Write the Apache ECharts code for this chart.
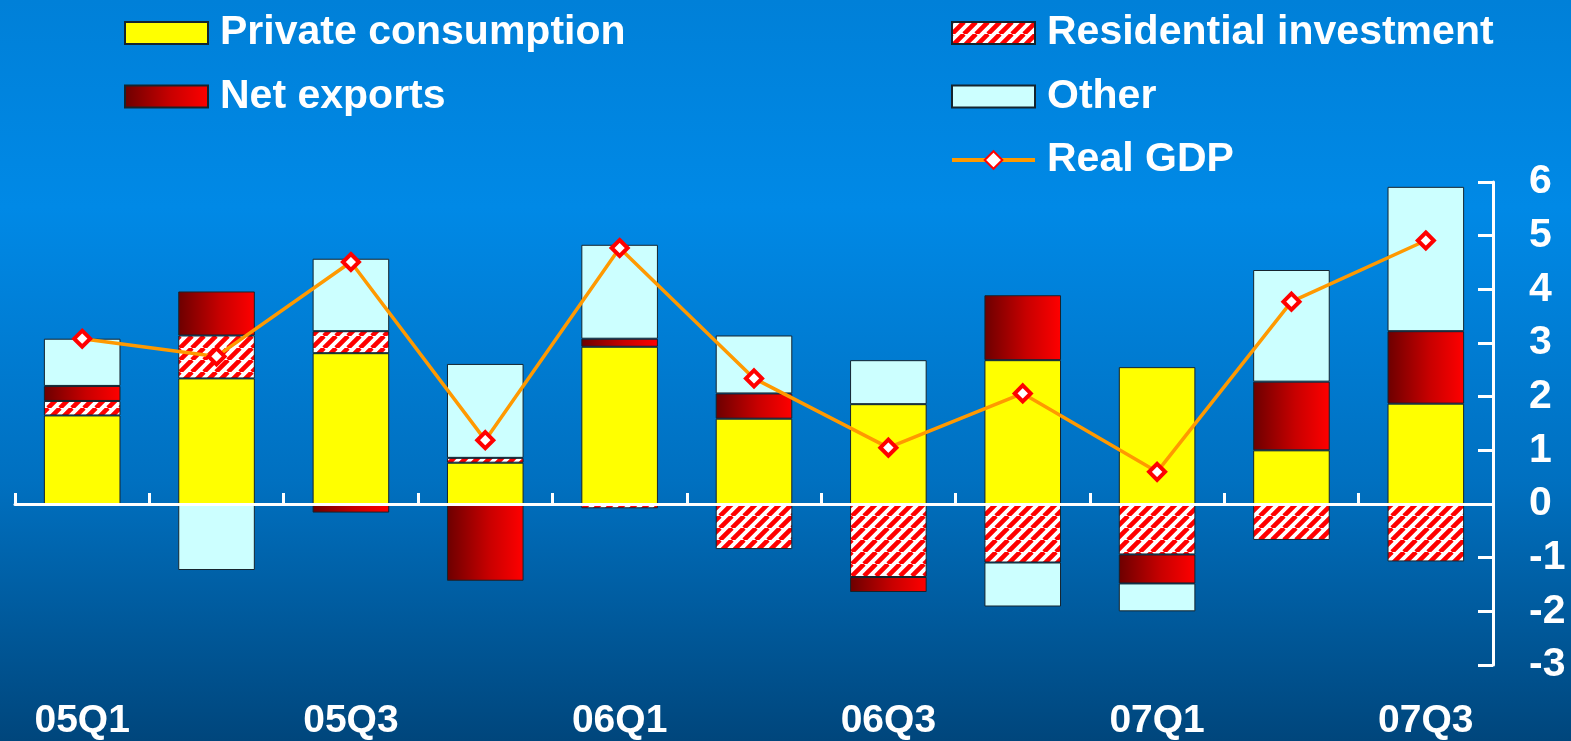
<!DOCTYPE html>
<html>
<head>
<meta charset="utf-8">
<script src="https://cdn.jsdelivr.net/npm/echarts@6/dist/echarts.min.js"></script>
<style>
  html, body { margin: 0; padding: 0; width: 1571px; height: 741px; overflow: hidden; }
  #chart { width: 1571px; height: 741px; }
</style>
</head>
<body>
<div id="chart"></div>
<script>
// Quarterly contributions to real GDP growth (percentage points)
const quarters = ['05Q1', '05Q2', '05Q3', '05Q4', '06Q1', '06Q2', '06Q3', '06Q4', '07Q1', '07Q2', '07Q3'];
const privateConsumption    = [1.65, 2.34, 2.81, 0.77, 2.93, 1.59, 1.86, 2.68, 2.55, 1.00, 1.87];
const residentialInvestment = [0.27, 0.80, 0.41, 0.09, -0.08, -0.84, -1.36, -1.09, -0.94, -0.67, -1.07];
const netExports            = [0.28, 0.82, -0.16, -1.43, 0.15, 0.47, -0.28, 1.21, -0.54, 1.28, 1.35];
const other                 = [0.88, -1.23, 1.35, 1.75, 1.75, 1.08, 0.82, -0.82, -0.52, 2.08, 2.69];
const realGDP               = [3.08, 2.75, 4.51, 1.19, 4.77, 2.34, 1.05, 2.06, 0.60, 3.77, 4.91];

const FONT = '"Liberation Sans", Arial, sans-serif';

// red "/" hatching on white for residential investment
function stripePattern() {
  const s = 12;
  const c = document.createElement('canvas');
  c.width = s; c.height = s;
  const g = c.getContext('2d');
  g.fillStyle = '#ffffff';
  g.fillRect(0, 0, s, s);
  g.strokeStyle = '#ff0000';
  g.lineWidth = 4.6;
  g.beginPath();
  for (let k = -1; k <= 1; k++) {
    g.moveTo(k * s, s);
    g.lineTo(k * s + s, 0);
  }
  g.stroke();
  return c;
}

const netExportsFill = {
  type: 'linear', x: 0, y: 0, x2: 1, y2: 0,
  colorStops: [
    { offset: 0, color: '#6c0000' },
    { offset: 0.55, color: '#c80000' },
    { offset: 1, color: '#ff0000' }
  ]
};

const barBorder = { borderColor: '#15242e', borderWidth: 1 };

const legendText = {
  color: '#ffffff', fontSize: 41, fontWeight: 'bold', fontFamily: FONT,
  lineHeight: 44, padding: [0, 0, 0, 7]
};

const chart = echarts.init(document.getElementById('chart'));
chart.setOption({
  animation: false,
  backgroundColor: {
    type: 'linear', x: 0, y: 0, x2: 0, y2: 1,
    colorStops: [
      { offset: 0, color: '#0080d8' },
      { offset: 0.28, color: '#0089e6' },
      { offset: 0.65, color: '#0070c0' },
      { offset: 1, color: '#00467c' }
    ]
  },
  textStyle: { fontFamily: FONT },
  legend: [
    {
      left: 124, top: 11, orient: 'vertical', padding: 0,
      itemWidth: 83, itemHeight: 22, itemGap: 19.5,
      data: [
        { name: 'Private consumption', icon: 'rect' },
        { name: 'Net exports', icon: 'rect' }
      ],
      textStyle: legendText
    },
    {
      left: 950, top: 11, orient: 'vertical', padding: 0,
      itemWidth: 83, itemHeight: 22, itemGap: 19.5,
      data: [
        { name: 'Residential investment', icon: 'rect' },
        { name: 'Other', icon: 'rect' },
        { name: 'Real GDP' }
      ],
      lineStyle: { width: 4 },
      textStyle: legendText
    }
  ],
  grid: { left: 15, right: 78, top: 182, bottom: 73 },
  xAxis: [
    {
      type: 'category', data: quarters, position: 'bottom', z: 10,
      axisLine: { show: true, onZero: true, lineStyle: { color: '#ffffff', width: 3 } },
      axisTick: { show: true, inside: true, length: 11, lineStyle: { color: '#ffffff', width: 3 } },
      axisLabel: { show: false },
      splitLine: { show: false }
    },
    {
      type: 'category', data: quarters, position: 'bottom',
      axisLine: { show: false }, axisTick: { show: false }, splitLine: { show: false },
      axisLabel: {
        interval: 1, color: '#ffffff', fontSize: 39, fontWeight: 'bold',
        fontFamily: FONT, margin: 37
      }
    }
  ],
  yAxis: {
    type: 'value', position: 'right', min: -3, max: 6, interval: 1,
    splitLine: { show: false },
    axisLine: { show: true, lineStyle: { color: '#ffffff', width: 3 } },
    axisTick: { show: true, inside: true, length: 15, lineStyle: { color: '#ffffff', width: 3 } },
    axisLabel: {
      color: '#ffffff', fontSize: 41, fontWeight: 'bold', fontFamily: FONT,
      margin: 36, align: 'left'
    }
  },
  series: [
    {
      name: 'Private consumption', type: 'bar', stack: 'gdp', barWidth: '57%',
      data: privateConsumption,
      itemStyle: Object.assign({ color: '#ffff00' }, barBorder)
    },
    {
      name: 'Residential investment', type: 'bar', stack: 'gdp', barWidth: '57%',
      data: residentialInvestment,
      itemStyle: Object.assign({ color: { image: stripePattern(), repeat: 'repeat' } }, barBorder)
    },
    {
      name: 'Net exports', type: 'bar', stack: 'gdp', barWidth: '57%',
      data: netExports,
      itemStyle: Object.assign({ color: netExportsFill }, barBorder)
    },
    {
      name: 'Other', type: 'bar', stack: 'gdp', barWidth: '57%',
      data: other,
      itemStyle: Object.assign({ color: '#ccffff' }, barBorder)
    },
    {
      name: 'Real GDP', type: 'line', z: 20,
      data: realGDP,
      symbol: 'diamond', symbolSize: 16, showAllSymbol: true,
      lineStyle: { color: '#ff9900', width: 3.5 },
      itemStyle: { color: '#ffffff', borderColor: '#ff0000', borderWidth: 4 }
    }
  ]
});
</script>
</body>
</html>
